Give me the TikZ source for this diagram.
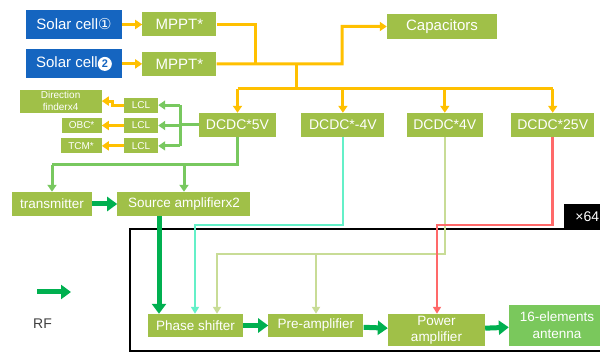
\documentclass[tikz,border=0pt]{standalone}
\usepackage{fontspec}
\setmainfont{Liberation Sans}
\newfontfamily\symfont{DejaVu Sans}
\usetikzlibrary{positioning, arrows.meta, calc}
\definecolor{cellBlue}{RGB}{21,101,192}
\definecolor{boxGreen}{RGB}{160,192,72}
\definecolor{antGreen}{RGB}{122,200,92}
\definecolor{feedOrange}{RGB}{255,192,0}
\definecolor{lclGreen}{RGB}{120,200,95}
\definecolor{rfGreen}{RGB}{0,176,80}
\definecolor{negAqua}{RGB}{100,240,200}
\definecolor{posOlive}{RGB}{200,220,150}
\definecolor{hvRed}{RGB}{255,105,105}
\tikzstyle{fBox}=[rectangle, inner sep=0pt, align=center, fill=boxGreen,
text=white, font=\fontsize{14}{16}\selectfont, minimum height=24pt]
\tikzstyle{fCell}=[fBox, fill=cellBlue, minimum width=96pt, minimum height=29pt,
font=\fontsize{15}{17}\selectfont]
\tikzstyle{fSmall}=[fBox, font=\fontsize{10}{12.5}\selectfont, minimum height=15pt]
\tikzstyle{feedLine}=[draw=feedOrange, line width=3pt]
\tikzstyle{feed}=[feedLine, -{Triangle[length=7pt,width=9pt]}]
\tikzstyle{lclLine}=[draw=lclGreen, line width=3pt]
\tikzstyle{lcl}=[lclLine, -{Triangle[length=7pt,width=9pt]}]
\tikzstyle{rf}=[draw=rfGreen, line width=5pt, -{Triangle[length=10pt,width=14pt]}]
\tikzstyle{negBias}=[draw=negAqua, line width=2.5pt, -{Triangle[length=7pt,width=8pt]}]
\tikzstyle{posBias}=[draw=posOlive, line width=2.5pt, -{Triangle[length=7pt,width=8pt]}]
\tikzstyle{hvBias}=[draw=hvRed, line width=2.5pt, -{Triangle[length=7pt,width=8pt]}]
\newcommand{\cellTwo}{\tikz[baseline=(d.base)]\node(d)[circle, fill=white,
  text=cellBlue, inner sep=0pt, minimum size=14pt,
  font=\bfseries\fontsize{11}{11}\selectfont]{2};}

\begin{document}
\begin{tikzpicture}[x=1pt, y=-1pt]
  \useasboundingbox (0,0) rectangle (600,352);
  % power supply side
  \node(solar1) [fCell] at (74,24.5) {Solar cell{\symfont ①}};
  \node(solar2) [fCell, below=10pt of solar1] {Solar cell\cellTwo};
  \node(mppt1) [fBox, minimum width=74pt, font=\fontsize{15}{17}\selectfont,
    right=20pt of solar1] {MPPT*};
  \node(mppt2) [fBox, minimum width=74pt, font=\fontsize{15}{17}\selectfont,
    right=20pt of solar2] {MPPT*};
  \node(caps) [fBox, minimum width=110pt, minimum height=25pt,
    font=\fontsize{15}{17}\selectfont] at (442,26.5) {Capacitors};
  \draw [feed] (solar1) -- (mppt1);
  \draw [feed] (solar2) -- (mppt2);
  \coordinate (join) at (255,64);
  \coordinate (capTurn) at (342,64);
  \coordinate (busTop) at (296,64);
  \coordinate (bus) at (296,89);
  \draw [feedLine] (mppt1) -| (join);
  \draw [feed] (mppt2) -- (capTurn) |- (caps);
  \node(dcdc5) [fBox, minimum width=77pt] at (237.5,125) {DCDC*5V};
  \node(dcdcm4) [fBox, minimum width=83pt, right=25pt of dcdc5] {DCDC*-4V};
  \node(dcdc4) [fBox, minimum width=76pt, right=22pt of dcdcm4] {DCDC*4V};
  \node(dcdc25) [fBox, minimum width=83pt, right=28pt of dcdc4] {DCDC*25V};
  \draw [feedLine] (busTop) -- (bus);
  \draw [feedLine] (dcdc5 |- bus) -- (dcdc25 |- bus);
  \foreach \n in {dcdc5, dcdcm4, dcdc4, dcdc25}
    \draw [feed] (\n |- bus) -- (\n);
  % loads behind the LCLs
  \node(lcl2) [fSmall, minimum width=34pt] at (141,125.5) {LCL};
  \node(lcl1) [fSmall, minimum width=34pt, above=5pt of lcl2] {LCL};
  \node(lcl3) [fSmall, minimum width=34pt, below=5pt of lcl2] {LCL};
  \node(dirf) [fSmall, minimum width=82pt, minimum height=23pt, left=22pt of lcl1,
    yshift=4pt] {Direction\\finderx4};
  \node(obc) [fSmall, minimum width=40pt, left=22pt of lcl2] {OBC*};
  \node(tcm) [fSmall, minimum width=41pt, left=22pt of lcl3] {TCM*};
  \coordinate (lclBus) at (180,125);
  \draw [lclLine] (dcdc5) -- (lclBus);
  \draw [lclLine] (lclBus |- lcl1) -- (lclBus |- lcl3);
  \foreach \n in {lcl1, lcl2, lcl3}
    \draw [lcl] (lclBus |- \n) -- (\n);
  \draw [feed] (lcl1.west) -- ++(-11,0) |- (dirf);
  \draw [feed] (lcl2) -- (obc);
  \draw [feed] (lcl3) -- (tcm);
  % RF chain
  \node(trans) [fBox, minimum width=80pt, font=\fontsize{13.5}{16}\selectfont] at (52,204) {transmitter};
  \node(srcamp) [fBox, minimum width=133pt, font=\fontsize{13.5}{16}\selectfont,
    right=25pt of trans] {Source amplifierx2};
  \coordinate (txBus) at (238,165);
  \coordinate (srcTap) at (184,165);
  \draw [lclLine] (dcdc5) -- (dcdc5 |- txBus) -- (trans |- txBus);
  \draw [lcl] (trans |- txBus) -- (trans);
  \draw [lcl] (srcTap) -- (srcamp.north -| srcTap);
  \draw [rf] (trans) -- (srcamp);
  \draw [line width=1.5pt] (130,229) rectangle (620,351);
  \node(times) [fill=black, text=white, inner sep=0pt, minimum width=46pt,
    minimum height=25pt, anchor=south west, font=\fontsize{14}{16}\selectfont]
    at (564,229) {×64};
  \node(phase) [fBox, minimum width=95pt, minimum height=23pt,
    font=\fontsize{13.5}{16}\selectfont] at (195.5,325.5) {Phase shifter};
  \node(preamp) [fBox, minimum width=95pt, minimum height=23pt,
    font=\fontsize{13.5}{16}\selectfont, right=25pt of phase] {Pre-amplifier};
  \node(power) [fBox, minimum width=97pt, minimum height=32pt,
    font=\fontsize{13.5}{16}\selectfont] at (436.5,330) {Power\\amplifier};
  \node(ant) [fBox, fill=antGreen, minimum width=96pt, minimum height=41pt,
    font=\fontsize{13.5}{17}\selectfont] at (557,325.5) {16-elements\\antenna};
  \coordinate (rfDown) at (159,0);
  \draw [rf] (srcamp.south -| rfDown) -- (phase.north -| rfDown);
  \draw [rf] (phase) -- (preamp);
  \draw [rf] (preamp) -- (power);
  \draw [rf] (power) -- (ant);
  % bias lines
  \coordinate (negTap) at (195,225);
  \coordinate (posTap) at (217,254);
  \coordinate (preTap) at (316,254);
  \coordinate (hvTap) at (437,225);
  \draw [negBias] (dcdcm4) |- (negTap) -- (phase.north -| negTap);
  \draw [posBias] (dcdc4) |- (posTap) -- (phase.north -| posTap);
  \draw [posBias] (preTap) -- (preamp.north -| preTap);
  \draw [hvBias] (dcdc25) |- (hvTap) -- (power.north -| hvTap);
  % legend
  \coordinate (legStart) at (37,292);
  \draw [rf] (legStart) -- ++(34,0);
  \node(rfLabel) [text=black!75, font=\fontsize{14}{16}\selectfont] at (42.5,323.5) {RF};
\end{tikzpicture}
\end{document}
